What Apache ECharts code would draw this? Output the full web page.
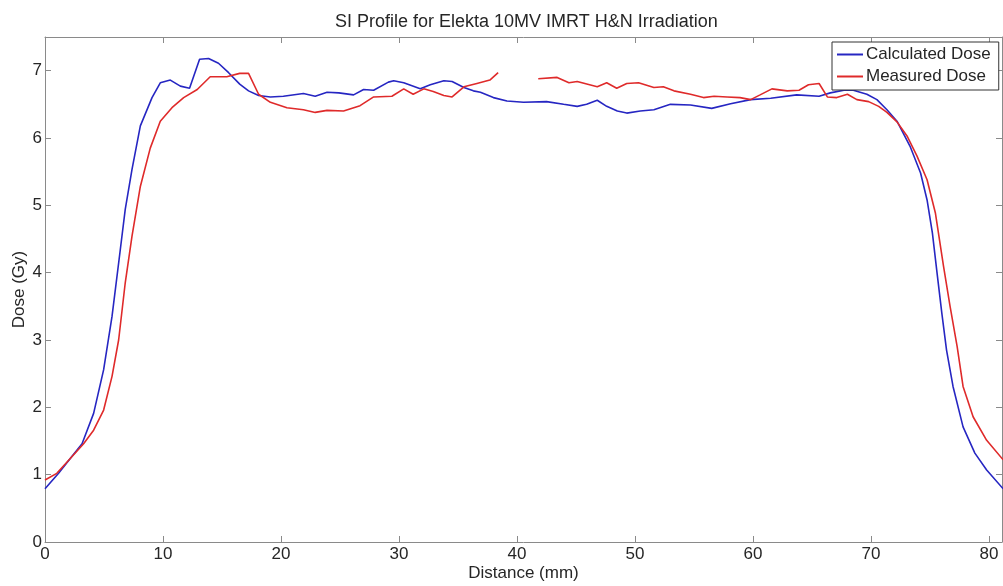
<!DOCTYPE html>
<html>
<head>
<meta charset="utf-8">
<script src="https://cdn.jsdelivr.net/npm/echarts@6/dist/echarts.min.js"></script>
<style>html,body{margin:0;padding:0;background:#fff}#c{width:1003px;height:586px}</style>
</head>
<body>
<div id="c"></div>
<script>
var titleText = 'SI Profile for Elekta 10MV IMRT H&N Irradiation';
var seriesNames = ['Calculated Dose', 'Measured Dose'];
var xTicks = [0, 10, 20, 30, 40, 50, 60, 70, 80];
var yTicks = [0, 1, 2, 3, 4, 5, 6, 7];

var calcX = [0, 1.15, 2.14, 3.14, 4.12, 4.97, 5.68, 6.38, 6.8, 7.37, 8.08, 9.07, 9.77, 10.62, 11.47, 12.25, 13.1, 13.86, 14.7, 15.56, 16.5, 17.25, 18.1, 19.1, 20.2, 21.9, 22.9, 23.9, 24.9, 26.15, 27.0, 27.85, 29.1, 29.55, 30.4, 31.8, 32.65, 33.8, 34.5, 35.5, 36.3, 36.9, 38.0, 39.15, 40.55, 42.5, 43.95, 45.1, 45.9, 46.8, 47.6, 48.5, 49.3, 50.45, 51.6, 53.0, 54.7, 56.5, 58.1, 59.8, 61.5, 63.7, 65.6, 66.55, 67.7, 68.5, 69.65, 70.5, 71.35, 72.2, 73.3, 74.2, 74.75, 75.2, 75.6, 76.0, 76.4, 76.95, 77.8, 78.8, 79.8, 81.2];
var calcY = [0.79, 1.02, 1.24, 1.46, 1.91, 2.56, 3.35, 4.34, 4.94, 5.53, 6.18, 6.6, 6.82, 6.86, 6.77, 6.74, 7.17, 7.18, 7.11, 6.97, 6.8, 6.7, 6.63, 6.61, 6.62, 6.66, 6.62, 6.68, 6.67, 6.64, 6.72, 6.71, 6.83, 6.85, 6.82, 6.73, 6.79, 6.85, 6.84, 6.75, 6.7, 6.68, 6.6, 6.55, 6.53, 6.54, 6.5, 6.47, 6.5, 6.56, 6.47, 6.4, 6.37, 6.4, 6.42, 6.5, 6.49, 6.44, 6.51, 6.57, 6.59, 6.64, 6.62, 6.67, 6.71, 6.71, 6.65, 6.57, 6.42, 6.25, 5.88, 5.48, 5.08, 4.59, 3.99, 3.4, 2.85, 2.31, 1.71, 1.32, 1.07, 0.79];

var measX = [0, 1.0, 2.14, 3.27, 4.12, 4.97, 5.68, 6.24, 6.8, 7.37, 8.08, 8.92, 9.77, 10.76, 11.75, 12.9, 14.0, 15.4, 16.5, 17.25, 18.1, 19.1, 20.5, 21.9, 22.9, 23.9, 25.3, 26.7, 27.85, 29.4, 30.4, 31.2, 32.1, 32.9, 33.8, 34.5, 35.5, 36.6, 37.7, 38.4, 40.0, 41.8, 43.4, 44.4, 45.1, 46.8, 47.6, 48.45, 49.3, 50.3, 51.6, 52.4, 53.3, 54.7, 55.8, 56.7, 57.8, 58.9, 59.8, 60.6, 61.6, 62.9, 63.9, 64.7, 65.6, 66.3, 67.1, 68.0, 68.8, 69.8, 70.65, 71.35, 72.2, 73.05, 73.9, 74.75, 75.45, 76.15, 76.7, 77.3, 77.8, 78.65, 79.8, 81.2];
var measY = [0.92, 1.02, 1.24, 1.46, 1.66, 1.96, 2.46, 3.0, 3.85, 4.54, 5.28, 5.85, 6.25, 6.45, 6.6, 6.72, 6.91, 6.91, 6.96, 6.96, 6.65, 6.53, 6.45, 6.42, 6.38, 6.41, 6.4, 6.48, 6.61, 6.62, 6.73, 6.65, 6.73, 6.69, 6.63, 6.61, 6.76, 6.81, 6.86, 6.97, null, 6.88, 6.9, 6.82, 6.84, 6.76, 6.82, 6.74, 6.81, 6.82, 6.75, 6.76, 6.7, 6.65, 6.6, 6.62, 6.61, 6.6, 6.57, 6.64, 6.73, 6.7, 6.71, 6.79, 6.81, 6.61, 6.6, 6.65, 6.57, 6.54, 6.47, 6.38, 6.24, 6.03, 5.73, 5.38, 4.89, 4.09, 3.5, 2.9, 2.31, 1.86, 1.51, 1.22];

function pairs(xs, ys) {
  return xs.map(function (x, i) { return [x, ys[i]]; });
}

var axisGray = '#8a8a8a';
var textCol = '#262626';
var font = 'Liberation Sans, Arial, sans-serif';

function tickFmt(list) {
  return function (v) { return list.indexOf(Math.round(v * 1000) / 1000) >= 0 ? String(v) : ''; };
}

var chart = echarts.init(document.getElementById('c'), null, {renderer: 'canvas'});
chart.setOption({
  animation: false,
  backgroundColor: '#fff',
  title: {
    text: titleText, left: 330, top: 8,
    textStyle: {fontFamily: font, fontSize: 18, fontWeight: 'normal', color: textCol}
  },
  legend: {
    data: seriesNames,
    orient: 'vertical',
    left: 832, top: 42,
    padding: [4, 8, 5, 5],
    itemGap: 5,
    itemWidth: 26, itemHeight: 2,
    icon: 'rect',
    backgroundColor: '#fff',
    borderColor: '#333', borderWidth: 1,
    textStyle: {fontFamily: font, fontSize: 17, color: textCol, padding: [0, 0, 0, -2]}
  },
  grid: {left: 45, right: 1, top: 37, bottom: 44, containLabel: false, outerBoundsMode: 'none'},
  xAxis: [{
    type: 'value', min: 0, max: 81.1, interval: 10,
    name: 'Distance (mm)', nameLocation: 'middle', nameGap: 23, nameMoveOverlap: false,
    nameTextStyle: {fontFamily: font, fontSize: 17, color: textCol},
    axisLine: {show: true, onZero: false, lineStyle: {color: axisGray, width: 1}},
    axisTick: {show: true, inside: true, length: 6, lineStyle: {color: axisGray}},
    axisLabel: {fontFamily: font, fontSize: 17, color: textCol, margin: 4, showMaxLabel: false, formatter: tickFmt(xTicks)},
    splitLine: {show: false}
  }, {
    type: 'value', position: 'top', min: 0, max: 81.1, interval: 10,
    axisLine: {show: true, onZero: false, lineStyle: {color: axisGray, width: 1}},
    axisTick: {show: true, inside: true, length: 6, lineStyle: {color: axisGray}},
    axisLabel: {show: false}, splitLine: {show: false}
  }],
  yAxis: [{
    type: 'value', min: 0, max: 7.5, interval: 1,
    name: 'Dose (Gy)', nameLocation: 'middle', nameGap: 17, nameMoveOverlap: false,
    nameTextStyle: {fontFamily: font, fontSize: 17, color: textCol},
    axisLine: {show: true, onZero: false, lineStyle: {color: axisGray, width: 1}},
    axisTick: {show: true, inside: true, length: 6, lineStyle: {color: axisGray}},
    axisLabel: {fontFamily: font, fontSize: 17, color: textCol, margin: 3, showMaxLabel: false, formatter: tickFmt(yTicks)},
    splitLine: {show: false}
  }, {
    type: 'value', position: 'right', min: 0, max: 7.5, interval: 1,
    axisLine: {show: true, onZero: false, lineStyle: {color: axisGray, width: 1}},
    axisTick: {show: true, inside: true, length: 6, lineStyle: {color: axisGray}},
    axisLabel: {show: false}, splitLine: {show: false}
  }],
  series: [{
    name: seriesNames[0], type: 'line', data: pairs(calcX, calcY),
    showSymbol: false, symbol: 'none', smooth: false,
    lineStyle: {color: '#2626c2', width: 1.6}, itemStyle: {color: '#2626c2'}
  }, {
    name: seriesNames[1], type: 'line', data: pairs(measX, measY),
    showSymbol: false, symbol: 'none', smooth: false, connectNulls: false,
    lineStyle: {color: '#df2a2a', width: 1.6}, itemStyle: {color: '#df2a2a'}
  }]
});
</script>
</body>
</html>
